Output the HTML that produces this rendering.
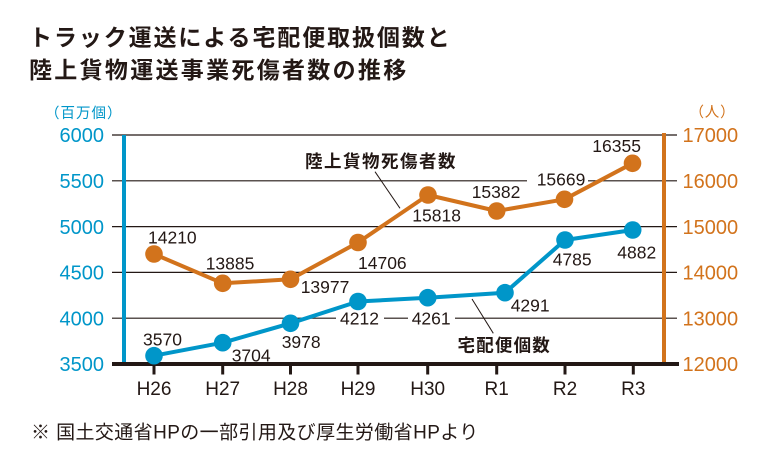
<!DOCTYPE html>
<html><head><meta charset="utf-8">
<style>
html,body{margin:0;padding:0;background:#fff;}
svg{display:block;}
.t{font-family:"Liberation Sans","Noto Sans CJK JP",sans-serif;}
.j{font-family:"Noto Sans CJK JP","Liberation Sans",sans-serif;}
</style></head>
<body>
<svg width="762" height="452" viewBox="0 0 762 452" xmlns="http://www.w3.org/2000/svg">
<rect width="762" height="452" fill="#fff"/>
<!-- Title -->
<text class="j" x="29" y="45.5" font-size="23" font-weight="700" fill="#231815" letter-spacing="1.9">トラック運送による宅配便取扱個数と</text>
<text class="j" x="29" y="77.8" font-size="23" font-weight="700" fill="#231815" letter-spacing="2.3">陸上貨物運送事業死傷者数の推移</text>

<!-- unit labels -->
<text class="j" x="45" y="118" font-size="14.5" fill="#0096c9" letter-spacing="1">（百万個）</text>
<text class="j" x="689.5" y="117" font-size="14.5" fill="#d2731c" letter-spacing="0.8">（人）</text>

<!-- gridlines -->
<g stroke="#231815" stroke-width="1.2">
<line x1="112" y1="135" x2="677" y2="135"/>
<line x1="112" y1="180.8" x2="677" y2="180.8"/>
<line x1="112" y1="226.6" x2="677" y2="226.6"/>
<line x1="112" y1="272.4" x2="677" y2="272.4"/>
<line x1="112" y1="318.2" x2="677" y2="318.2"/>
</g>
<!-- left/right axis bars -->
<rect x="122" y="135" width="4" height="229" fill="#0096c9"/>
<rect x="662" y="133" width="4" height="231" fill="#d2731c"/>
<!-- bottom axis -->
<rect x="112" y="362" width="567" height="4" fill="#231815"/>
<g fill="#231815">
<rect x="152.5" y="364" width="3" height="10.5"/>
<rect x="221.2" y="364" width="3" height="10.5"/>
<rect x="289" y="364" width="3" height="10.5"/>
<rect x="356.5" y="364" width="3" height="10.5"/>
<rect x="426.2" y="364" width="3" height="10.5"/>
<rect x="495.2" y="364" width="3" height="10.5"/>
<rect x="563.5" y="364" width="3" height="10.5"/>
<rect x="631.8" y="364" width="3" height="10.5"/>
</g>

<!-- left axis labels -->
<g class="t" font-size="20" fill="#0096c9" text-anchor="end">
<text x="104" y="142.2">6000</text>
<text x="104" y="188">5500</text>
<text x="104" y="233.8">5000</text>
<text x="104" y="279.6">4500</text>
<text x="104" y="325.4">4000</text>
<text x="104" y="371.2">3500</text>
</g>
<!-- right axis labels -->
<g class="t" font-size="20" fill="#d2731c">
<text x="682.5" y="142.2">17000</text>
<text x="682.5" y="188">16000</text>
<text x="682.5" y="233.8">15000</text>
<text x="682.5" y="279.6">14000</text>
<text x="682.5" y="325.4">13000</text>
<text x="682.5" y="371.2">12000</text>
</g>
<!-- x labels -->
<g class="t" font-size="19" fill="#231815" text-anchor="middle">
<text x="154" y="395">H26</text>
<text x="222.7" y="395">H27</text>
<text x="290.5" y="395">H28</text>
<text x="358" y="395">H29</text>
<text x="427.7" y="395">H30</text>
<text x="496.7" y="395">R1</text>
<text x="565" y="395">R2</text>
<text x="633.3" y="395">R3</text>
</g>

<!-- white gaps behind labels on gridlines -->
<rect x="336" y="314" width="48" height="9" fill="#fff"/>
<rect x="408" y="314" width="47" height="9" fill="#fff"/>
<rect x="527" y="177" width="61" height="8" fill="#fff"/>

<!-- leader lines -->
<line x1="375" y1="171.7" x2="400" y2="208.3" stroke="#231815" stroke-width="1"/>
<line x1="472" y1="299" x2="493.3" y2="333.3" stroke="#231815" stroke-width="1"/>

<!-- orange series -->
<polyline fill="none" stroke="#d2731c" stroke-width="4" stroke-linejoin="round"
 points="154,254 222.7,283.3 290.5,279.3 358,242.5 428,195 496.7,211 564.5,199.3 632.5,163.3"/>
<g fill="#d2731c">
<circle cx="154" cy="254" r="8.8"/>
<circle cx="222.7" cy="283.3" r="8.8"/>
<circle cx="290.5" cy="279.3" r="8.8"/>
<circle cx="358" cy="242.5" r="8.8"/>
<circle cx="428" cy="195" r="8.8"/>
<circle cx="496.7" cy="211" r="8.8"/>
<circle cx="564.5" cy="199.3" r="8.8"/>
<circle cx="632.5" cy="163.3" r="8.8"/>
</g>
<!-- blue series -->
<polyline fill="none" stroke="#0096c9" stroke-width="4" stroke-linejoin="round"
 points="154,355.7 222.7,342.7 290.5,323.3 358,301.5 427.7,297.7 505,292.7 565,240 632.7,230"/>
<g fill="#0096c9">
<circle cx="154" cy="355.7" r="8.8"/>
<circle cx="222.7" cy="342.7" r="8.8"/>
<circle cx="290.5" cy="323.3" r="8.8"/>
<circle cx="358" cy="301.5" r="8.8"/>
<circle cx="427.7" cy="297.7" r="8.8"/>
<circle cx="505" cy="292.7" r="8.8"/>
<circle cx="565" cy="240" r="8.8"/>
<circle cx="632.7" cy="230" r="8.8"/>
</g>

<!-- data labels -->
<g class="t" font-size="17.5" fill="#231815">
<text x="148" y="243.6">14210</text>
<text x="205.7" y="269.6">13885</text>
<text x="300.7" y="293">13977</text>
<text x="358" y="269">14706</text>
<text x="412.3" y="221.3">15818</text>
<text x="471.7" y="198">15382</text>
<text x="536.7" y="185.6">15669</text>
<text x="592.3" y="152">16355</text>
<text x="143" y="345.6">3570</text>
<text x="231.7" y="361.3">3704</text>
<text x="281.7" y="348">3978</text>
<text x="340" y="324.5">4212</text>
<text x="411.7" y="324.5">4261</text>
<text x="510.7" y="311.3">4291</text>
<text x="552.7" y="265.6">4785</text>
<text x="617.3" y="258.6">4882</text>
</g>

<!-- series annotations -->
<text class="j" x="305" y="167.5" font-size="17.5" font-weight="700" fill="#231815" letter-spacing="1.5">陸上貨物死傷者数</text>
<text class="j" x="457.5" y="351.5" font-size="17.5" font-weight="700" fill="#231815" letter-spacing="1.2">宅配便個数</text>

<!-- footnote -->
<text class="t" x="31" y="438.5" font-size="19" fill="#231815" letter-spacing="0.4">※ 国土交通省HPの一部引用及び厚生労働省HPより</text>
</svg>
</body></html>
